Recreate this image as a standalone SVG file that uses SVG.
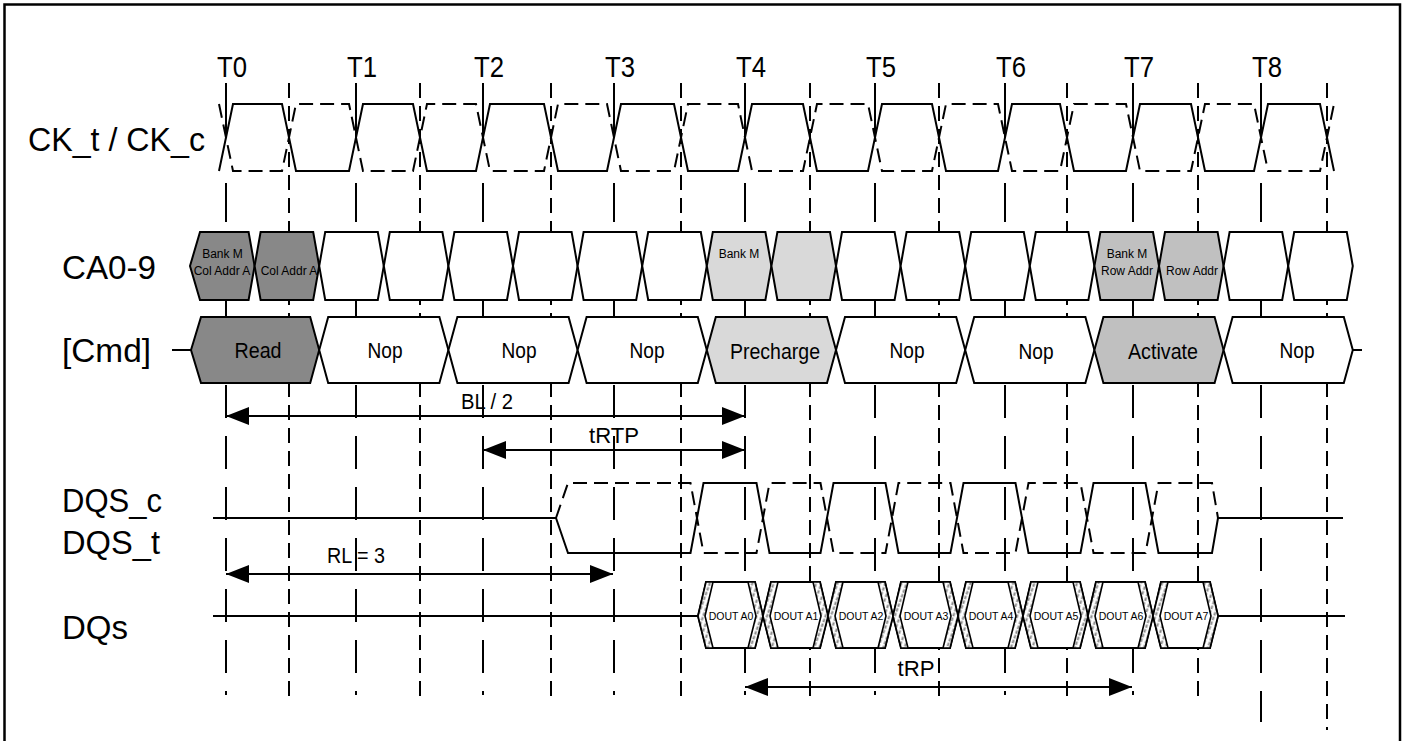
<svg xmlns="http://www.w3.org/2000/svg" width="1407" height="741" viewBox="0 0 1407 741">
<style>
.sig{fill:none;stroke:#000;stroke-width:2;stroke-linejoin:miter}
.dsh{stroke-dasharray:14 7}
.tl{fill:none;stroke:#000;stroke-width:2}
.hl{fill:none;stroke:#000;stroke-width:2;stroke-dasharray:15 8}
.box{stroke:#000;stroke-width:2;stroke-linejoin:miter}
.band{fill:url(#hatch);stroke:#000;stroke-width:1.6;stroke-linejoin:miter}
.w{fill:#fff}.dk{fill:#888}.lt{fill:#d9d9d9}.md{fill:#c0c0c0}
.arr{fill:none;stroke:#000;stroke-width:2;marker-start:url(#ah);marker-end:url(#ah)}
text{font-family:'Liberation Sans',Arial,sans-serif;fill:#000}
.lbl{font-size:34px}
.tk{font-size:30px}
.cmd{font-size:22px;text-anchor:middle}
.ca{font-size:12px;text-anchor:middle}
.do{font-size:10.5px;text-anchor:middle}
.al{font-size:22px;text-anchor:middle}
</style>
<defs>
<marker id="ah" markerUnits="userSpaceOnUse" markerWidth="24" markerHeight="20" refX="23" refY="10" orient="auto-start-reverse" viewBox="0 0 24 20"><path d="M0,1 L23,10 L0,19 z" fill="#000"/></marker>
<pattern id="hatch" patternUnits="userSpaceOnUse" width="5" height="5" patternTransform="rotate(20)"><rect width="5" height="5" fill="#fff"/><line x1="1.5" y1="0" x2="1.5" y2="5" stroke="#888" stroke-width="2" stroke-dasharray="3 1.5"/></pattern>
</defs>
<rect x="4.5" y="4.5" width="1395.5" height="745" fill="#fff" stroke="#000" stroke-width="2.5"/>

<g id="timing-lines">
<path class="tl" d="M226,83V138M226,183V222M226,300V317M226,385V418M226,436V469M226,487V520M226,538V571M226,589V622M226,640V673M226,691V695"/>
<path class="tl" d="M356,83V138M356,183V222M356,300V317M356,385V418M356,436V469M356,487V520M356,538V571M356,589V622M356,640V673M356,691V695"/>
<path class="tl" d="M483,83V138M483,183V222M483,300V317M483,385V418M483,436V469M483,487V520M483,538V571M483,589V622M483,640V673M483,691V695"/>
<path class="tl" d="M614,83V138M614,183V222M614,300V317M614,385V418M614,436V469M614,487V520M614,538V571M614,589V622M614,640V673M614,691V695"/>
<path class="tl" d="M745,83V138M745,183V222M745,300V317M745,385V418M745,436V469M745,487V520M745,538V571M745,589V622M745,640V673M745,691V695"/>
<path class="tl" d="M875,83V138M875,183V222M875,300V317M875,385V418M875,436V469M875,487V520M875,538V571M875,589V622M875,640V673M875,691V695"/>
<path class="tl" d="M1005,83V138M1005,183V222M1005,300V317M1005,385V418M1005,436V469M1005,487V520M1005,538V571M1005,589V622M1005,640V673M1005,691V695"/>
<path class="tl" d="M1133,83V138M1133,183V222M1133,300V317M1133,385V418M1133,436V469M1133,487V520M1133,538V571M1133,589V622M1133,640V673M1133,691V695"/>
<path class="tl" d="M1261,83V138M1261,183V222M1261,300V317M1261,385V418M1261,436V469M1261,487V520M1261,538V571M1261,589V622M1261,640V673M1261,691V722"/>
<path class="hl" d="M289,83V698M420,83V698M551,83V698M681,83V698M810,83V698M939,83V698M1067,83V698M1198,83V698"/>
<path class="hl" d="M1327,83V730"/>
</g>

<g id="labels">
<text class="tk" x="217" y="77" textLength="30" lengthAdjust="spacingAndGlyphs">T0</text>
<text class="tk" x="347" y="77" textLength="30" lengthAdjust="spacingAndGlyphs">T1</text>
<text class="tk" x="474" y="77" textLength="30" lengthAdjust="spacingAndGlyphs">T2</text>
<text class="tk" x="605" y="77" textLength="30" lengthAdjust="spacingAndGlyphs">T3</text>
<text class="tk" x="736" y="77" textLength="30" lengthAdjust="spacingAndGlyphs">T4</text>
<text class="tk" x="866" y="77" textLength="30" lengthAdjust="spacingAndGlyphs">T5</text>
<text class="tk" x="996" y="77" textLength="30" lengthAdjust="spacingAndGlyphs">T6</text>
<text class="tk" x="1124" y="77" textLength="30" lengthAdjust="spacingAndGlyphs">T7</text>
<text class="tk" x="1252" y="77" textLength="30" lengthAdjust="spacingAndGlyphs">T8</text>
<text class="lbl" x="28" y="151" textLength="177" lengthAdjust="spacingAndGlyphs">CK_t / CK_c</text>
<text class="lbl" x="62" y="279" textLength="94" lengthAdjust="spacingAndGlyphs">CA0-9</text>
<text class="lbl" x="62" y="362" textLength="89" lengthAdjust="spacingAndGlyphs">[Cmd]</text>
<text class="lbl" x="62" y="512" textLength="100" lengthAdjust="spacingAndGlyphs">DQS_c</text>
<text class="lbl" x="62" y="554" textLength="98" lengthAdjust="spacingAndGlyphs">DQS_t</text>
<text class="lbl" x="62" y="639" textLength="66" lengthAdjust="spacingAndGlyphs">DQs</text>
</g>

<g id="clock">
<path class="sig" d="M219,171 L233,104 L282,104 L296,171 L349,171 L363,104 L413,104 L427,171 L476,171 L490,104 L544,104 L558,171 L607,171 L621,104 L674,104 L688,171 L738,171 L752,104 L803,104 L817,171 L868,171 L882,104 L932,104 L946,171 L998,171 L1012,104 L1060,104 L1074,171 L1126,171 L1140,104 L1191,104 L1205,171 L1254,171 L1268,104 L1320,104 L1334,171"/>
<path class="sig dsh" d="M219,104 L233,171 L282,171 L296,104 L349,104 L363,171 L413,171 L427,104 L476,104 L490,171 L544,171 L558,104 L607,104 L621,171 L674,171 L688,104 L738,104 L752,171 L803,171 L817,104 L868,104 L882,171 L932,171 L946,104 L998,104 L1012,171 L1060,171 L1074,104 L1126,104 L1140,171 L1191,171 L1205,104 L1254,104 L1268,171 L1320,171 L1334,104"/>
</g>

<g id="ca-row">
<polygon class="box dk" points="190,266 200,232 248.6,232 254.6,266 248.6,300 200,300"/>
<polygon class="box dk" points="254.6,266 260.6,232 313.2,232 319.2,266 313.2,300 260.6,300"/>
<polygon class="box w" points="319.2,266 325.2,232 377.8,232 383.8,266 377.8,300 325.2,300"/>
<polygon class="box w" points="383.8,266 389.8,232 442.4,232 448.4,266 442.4,300 389.8,300"/>
<polygon class="box w" points="448.4,266 454.4,232 507,232 513,266 507,300 454.4,300"/>
<polygon class="box w" points="513,266 519,232 571.6,232 577.6,266 571.6,300 519,300"/>
<polygon class="box w" points="577.6,266 583.6,232 636.2,232 642.2,266 636.2,300 583.6,300"/>
<polygon class="box w" points="642.2,266 648.2,232 700.8,232 706.8,266 700.8,300 648.2,300"/>
<polygon class="box lt" points="706.8,266 712.8,232 765.4,232 771.4,266 765.4,300 712.8,300"/>
<polygon class="box lt" points="771.4,266 777.4,232 830,232 836,266 830,300 777.4,300"/>
<polygon class="box w" points="836,266 842,232 894.6,232 900.6,266 894.6,300 842,300"/>
<polygon class="box w" points="900.6,266 906.6,232 959.2,232 965.2,266 959.2,300 906.6,300"/>
<polygon class="box w" points="965.2,266 971.2,232 1023.8,232 1029.8,266 1023.8,300 971.2,300"/>
<polygon class="box w" points="1029.8,266 1035.8,232 1088.4,232 1094.4,266 1088.4,300 1035.8,300"/>
<polygon class="box md" points="1094.4,266 1100.4,232 1153,232 1159,266 1153,300 1100.4,300"/>
<polygon class="box md" points="1159,266 1165,232 1217.6,232 1223.6,266 1217.6,300 1165,300"/>
<polygon class="box w" points="1223.6,266 1229.6,232 1282.2,232 1288.2,266 1282.2,300 1229.6,300"/>
<polygon class="box w" points="1288.2,266 1294.2,232 1346.8,232 1352.8,266 1346.8,300 1294.2,300"/>
<text class="ca" x="222.5" y="258">Bank M</text>
<text class="ca" x="222" y="275">Col Addr A</text>
<text class="ca" x="289" y="275">Col Addr A</text>
<text class="ca" x="739" y="258">Bank M</text>
<text class="ca" x="1127" y="258">Bank M</text>
<text class="ca" x="1127" y="275">Row Addr</text>
<text class="ca" x="1192" y="275">Row Addr</text>
</g>

<g id="cmd-row">
<path class="sig" d="M172,350H191M1352.8,350H1362"/>
<polygon class="box dk" points="191,350 201,317 310.2,317 319.2,350 310.2,383 201,383"/>
<polygon class="box w" points="319.2,350 328.2,317 439.4,317 448.4,350 439.4,383 328.2,383"/>
<polygon class="box w" points="448.4,350 457.4,317 568.6,317 577.6,350 568.6,383 457.4,383"/>
<polygon class="box w" points="577.6,350 586.6,317 697.8,317 706.8,350 697.8,383 586.6,383"/>
<polygon class="box lt" points="706.8,350 715.8,317 827,317 836,350 827,383 715.8,383"/>
<polygon class="box w" points="836,350 845,317 956.2,317 965.2,350 956.2,383 845,383"/>
<polygon class="box w" points="965.2,350 974.2,317 1085.4,317 1094.4,350 1085.4,383 974.2,383"/>
<polygon class="box md" points="1094.4,350 1103.4,317 1214.6,317 1223.6,350 1214.6,383 1103.4,383"/>
<polygon class="box w" points="1223.6,350 1232.6,317 1343.8,317 1352.8,350 1343.8,383 1232.6,383"/>
<text class="cmd" x="258" y="358" textLength="47" lengthAdjust="spacingAndGlyphs">Read</text>
<text class="cmd" x="385" y="358" textLength="35" lengthAdjust="spacingAndGlyphs">Nop</text>
<text class="cmd" x="519" y="358" textLength="35" lengthAdjust="spacingAndGlyphs">Nop</text>
<text class="cmd" x="647" y="358" textLength="35" lengthAdjust="spacingAndGlyphs">Nop</text>
<text class="cmd" x="775" y="359" textLength="90" lengthAdjust="spacingAndGlyphs">Precharge</text>
<text class="cmd" x="907" y="358" textLength="35" lengthAdjust="spacingAndGlyphs">Nop</text>
<text class="cmd" x="1036" y="359" textLength="35" lengthAdjust="spacingAndGlyphs">Nop</text>
<text class="cmd" x="1163" y="359" textLength="70" lengthAdjust="spacingAndGlyphs">Activate</text>
<text class="cmd" x="1297" y="358" textLength="35" lengthAdjust="spacingAndGlyphs">Nop</text>
</g>

<g id="dqs">
<path class="sig" d="M213,518H556M1218,518H1343"/>
<path class="sig" d="M556,518 L568,553 L690.5,553 L703.5,483 L756.5,483 L769.5,553 L820.5,553 L833.5,483 L885.5,483 L898.5,553 L950.5,553 L963.5,483 L1015.5,483 L1028.5,553 L1080.5,553 L1093.5,483 L1145.5,483 L1158.5,553 L1212,553 L1218,518"/>
<path class="sig dsh" d="M556,518 L568,483 L690.5,483 L703.5,553 L756.5,553 L769.5,483 L820.5,483 L833.5,553 L885.5,553 L898.5,483 L950.5,483 L963.5,553 L1015.5,553 L1028.5,483 L1080.5,483 L1093.5,553 L1145.5,553 L1158.5,483 L1212,483 L1218,518"/>
</g>

<g id="dq">
<path class="sig" d="M213,616H698M1218,616H1345"/>
<g id="dout-a0">
<polygon class="box w" points="698,616 706,582 755,582 763,616 755,648 706,648"/>
<polygon class="band" points="698,616 706,582 713,582 705,616 713,648 706,648"/>
<polygon class="band" points="763,616 755,582 748,582 756,616 748,648 755,648"/>
<text class="do" x="731" y="620">DOUT A0</text>
</g>
<g id="dout-a1">
<polygon class="box w" points="763,616 771,582 820,582 828,616 820,648 771,648"/>
<polygon class="band" points="763,616 771,582 778,582 770,616 778,648 771,648"/>
<polygon class="band" points="828,616 820,582 813,582 821,616 813,648 820,648"/>
<text class="do" x="796" y="620">DOUT A1</text>
</g>
<g id="dout-a2">
<polygon class="box w" points="828,616 836,582 885,582 893,616 885,648 836,648"/>
<polygon class="band" points="828,616 836,582 843,582 835,616 843,648 836,648"/>
<polygon class="band" points="893,616 885,582 878,582 886,616 878,648 885,648"/>
<text class="do" x="861" y="620">DOUT A2</text>
</g>
<g id="dout-a3">
<polygon class="box w" points="893,616 901,582 950,582 958,616 950,648 901,648"/>
<polygon class="band" points="893,616 901,582 908,582 900,616 908,648 901,648"/>
<polygon class="band" points="958,616 950,582 943,582 951,616 943,648 950,648"/>
<text class="do" x="926" y="620">DOUT A3</text>
</g>
<g id="dout-a4">
<polygon class="box w" points="958,616 966,582 1015,582 1023,616 1015,648 966,648"/>
<polygon class="band" points="958,616 966,582 973,582 965,616 973,648 966,648"/>
<polygon class="band" points="1023,616 1015,582 1008,582 1016,616 1008,648 1015,648"/>
<text class="do" x="991" y="620">DOUT A4</text>
</g>
<g id="dout-a5">
<polygon class="box w" points="1023,616 1031,582 1080,582 1088,616 1080,648 1031,648"/>
<polygon class="band" points="1023,616 1031,582 1038,582 1030,616 1038,648 1031,648"/>
<polygon class="band" points="1088,616 1080,582 1073,582 1081,616 1073,648 1080,648"/>
<text class="do" x="1056" y="620">DOUT A5</text>
</g>
<g id="dout-a6">
<polygon class="box w" points="1088,616 1096,582 1145,582 1153,616 1145,648 1096,648"/>
<polygon class="band" points="1088,616 1096,582 1103,582 1095,616 1103,648 1096,648"/>
<polygon class="band" points="1153,616 1145,582 1138,582 1146,616 1138,648 1145,648"/>
<text class="do" x="1121" y="620">DOUT A6</text>
</g>
<g id="dout-a7">
<polygon class="box w" points="1153,616 1161,582 1210,582 1218,616 1210,648 1161,648"/>
<polygon class="band" points="1153,616 1161,582 1168,582 1160,616 1168,648 1161,648"/>
<polygon class="band" points="1218,616 1210,582 1203,582 1211,616 1203,648 1210,648"/>
<text class="do" x="1186" y="620">DOUT A7</text>
</g>
</g>

<g id="connectors">
<path class="arr" d="M226,416H745"/>
<path class="arr" d="M483,450H745"/>
<path class="arr" d="M226,574H613"/>
<path class="arr" d="M745,687H1132"/>
<text class="al" x="487" y="409" textLength="52" lengthAdjust="spacingAndGlyphs">BL / 2</text>
<text class="al" x="614" y="443" textLength="50" lengthAdjust="spacingAndGlyphs">tRTP</text>
<text class="al" x="356" y="563" textLength="58" lengthAdjust="spacingAndGlyphs">RL = 3</text>
<text class="al" x="916" y="676" textLength="37" lengthAdjust="spacingAndGlyphs">tRP</text>
</g>
</svg>
